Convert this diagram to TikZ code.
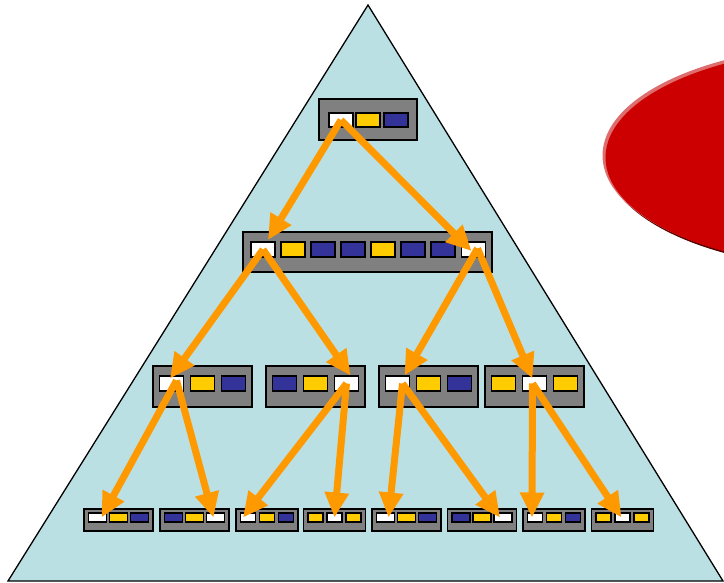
\documentclass[tikz,border=0pt]{standalone}
\usetikzlibrary{arrows.meta,calc}
\definecolor{tri}{RGB}{187,224,228}
\definecolor{cy}{RGB}{255,204,0}
\definecolor{cb}{RGB}{51,51,153}
\definecolor{cg}{RGB}{128,128,128}
\definecolor{org}{RGB}{255,153,0}
\definecolor{redm}{RGB}{204,0,0}
\definecolor{redl}{RGB}{222,110,110}
\definecolor{redd}{RGB}{90,0,0}
\begin{document}
\begin{tikzpicture}[x=1pt,y=-1pt,
  box/.style={draw=black,fill=cg,line width=1.6pt,inner sep=0pt,rectangle},
  cell/.style={draw=black,line width=1.3pt,inner sep=0pt,rectangle},
  arr/.style={draw=org,line width=7pt,-{Triangle[length=25pt,width=23pt]}}]
\useasboundingbox (0,0) rectangle (724,583);
\clip (0,0) rectangle (724,583);
% background triangle
\path[fill=tri,draw=black,line width=1.3pt] (368,5) -- (723,581) -- (8,581) -- cycle;
% red ellipse
\fill[redd] (855.5,158.5) ellipse [x radius=250pt, y radius=111pt];
\fill[redl] (852.5,155.5) ellipse [x radius=250pt, y radius=111pt];
\fill[redm] (854.5,157.5) ellipse [x radius=249pt, y radius=110pt];
% top box
\node[box,minimum width=98pt,minimum height=41pt] (tb) at (368,119.5) {};
\foreach \n/\x/\c in {t1/341/white,t2/368/cy,t3/396/cb}
  \node[cell,fill=\c,minimum width=24pt,minimum height=14pt] (\n) at (\x,120) {};
% middle box
\node[box,minimum width=249pt,minimum height=40pt] (mb) at (367.5,252) {};
\foreach \n/\x/\c in {m1/263/white,m2/293/cy,m3/323/cb,m4/353/cb,m5/383/cy,m6/413/cb,m7/443/cb,m8/473.5/white}
  \node[cell,fill=\c,minimum width=24pt,minimum height=15pt] (\n) at (\x,249.5) {};
% third row
\foreach \b/\x/\ca/\cb/\cc in {1/202.5/white/cy/cb,2/315.5/cb/cy/white,3/428.5/white/cy/cb,4/534.5/cy/white/cy}{
  \node[box,minimum width=99pt,minimum height=41pt] (rb\b) at (\x,386.5) {};
  \node[cell,fill=\ca,minimum width=24pt,minimum height=15pt] (r\b a) at (\x-31,383.5) {};
  \node[cell,fill=\cb,minimum width=24pt,minimum height=15pt] (r\b b) at (\x,383.5) {};
  \node[cell,fill=\cc,minimum width=24pt,minimum height=15pt] (r\b c) at (\x+31,383.5) {};
}
% bottom row, wide boxes
\foreach \b/\x/\ca/\cb/\cc in {1/118.5/white/cy/cb,2/194.5/cb/cy/white,5/406.5/white/cy/cb,6/482/cb/cy/white}{
  \node[box,minimum width=69pt,minimum height=22pt] (bb\b) at (\x,520) {};
  \node[cell,fill=\ca,minimum width=18pt,minimum height=9pt] (b\b a) at (\x-21,517.5) {};
  \node[cell,fill=\cb,minimum width=18pt,minimum height=9pt] (b\b b) at (\x,517.5) {};
  \node[cell,fill=\cc,minimum width=18pt,minimum height=9pt] (b\b c) at (\x+21,517.5) {};
}
% bottom row, narrow boxes
\foreach \b/\x/\ca/\cb/\cc in {3/267/white/cy/cb,4/334.5/cy/white/cy,7/554/white/cy/cb,8/622.5/cy/white/cy}{
  \node[box,minimum width=62pt,minimum height=22pt] (bb\b) at (\x,520) {};
  \node[cell,fill=\ca,minimum width=15pt,minimum height=9pt] (b\b a) at (\x-19,517.5) {};
  \node[cell,fill=\cb,minimum width=15pt,minimum height=9pt] (b\b b) at (\x,517.5) {};
  \node[cell,fill=\cc,minimum width=15pt,minimum height=9pt] (b\b c) at (\x+19,517.5) {};
}
% arrows
\draw[arr] (t1.center) -- ($(m1.center)+(5,-9.5)$);
\draw[arr] (t1.center) -- ($(m8.center)+(-2,1.5)$);
\draw[arr] (m1.center) -- ($(r1a.center)+(-1.5,-5)$);
\draw[arr] (m1.center) -- ($(r2c.center)+(4,-8)$);
\draw[arr] ($(m8.center)+(4,-1)$) -- ($(r3a.center)+(7,-8)$);
\draw[arr] ($(m8.center)+(4,-1)$) -- ($(r4b.center)+(-2,-5)$);
\draw[arr] ($(r1a.center)+(5,-3)$) -- ($(b1a.center)+(4,0)$);
\draw[arr] ($(r1a.center)+(5,-3)$) -- ($(b2c.center)+(-2,0)$);
\draw[arr] (r2c.center) -- ($(b3a.center)+(-5,0)$);
\draw[arr] (r2c.center) -- ($(b4b.center)+(0,0)$);
\draw[arr] ($(r3a.center)+(5,0)$) -- ($(b5a.center)+(3,0)$);
\draw[arr] ($(r3a.center)+(5,0)$) -- ($(b6c.center)+(-3,0)$);
\draw[arr] ($(r4b.center)+(-2,0)$) -- ($(b7a.center)+(-3,0)$);
\draw[arr] ($(r4b.center)+(-2,0)$) -- ($(b8b.center)+(-1,0)$);
\end{tikzpicture}
\end{document}
